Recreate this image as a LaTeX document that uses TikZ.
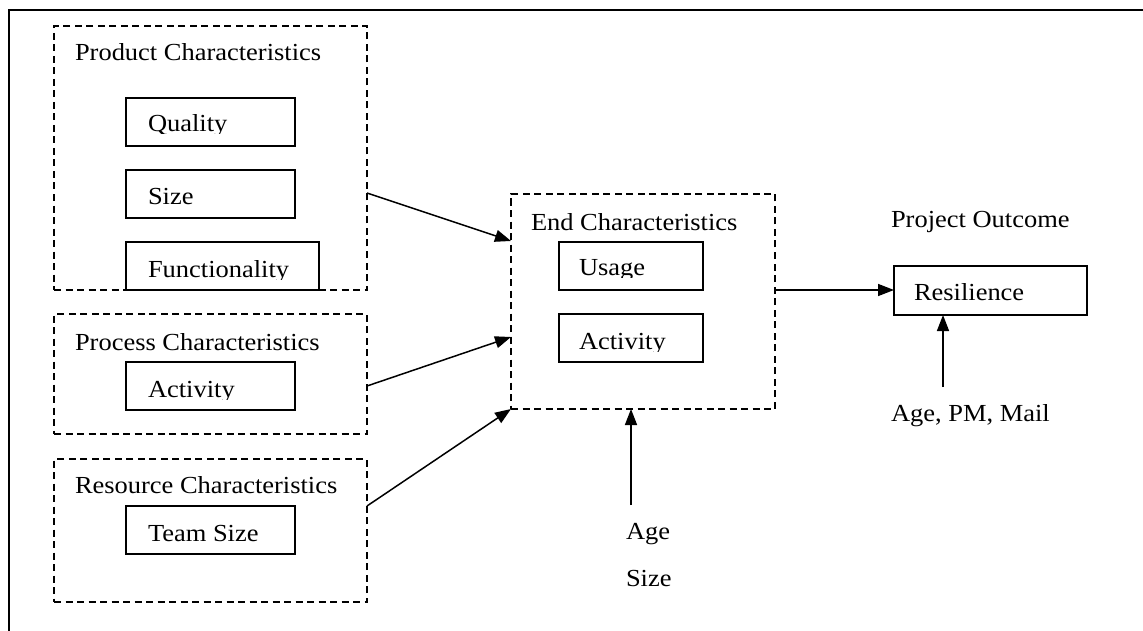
\documentclass[tikz,border=0pt]{standalone}
\usepackage{fontspec}
\setmainfont{Liberation Serif}
\usetikzlibrary{arrows.meta,calc}
% slightly widened serif text
\newcommand{\wide}[1]{\scalebox{1.08}[1]{#1}}
\tikzset{
  frame/.style={line width=2.4pt},
  group/.style={draw, line width=1.5pt, dash pattern=on 7pt off 4.5pt,
    inner sep=0pt, outer sep=0pt, anchor=north west},
  item/.style={draw, line width=1.5pt, inner sep=0pt, outer sep=0pt,
    anchor=north west},
  lbl/.style={anchor=base west, inner sep=0pt, outer sep=0pt,
    font=\fontsize{24.5}{29}\selectfont},
  link/.style={line width=1.5pt, -{Triangle[length=16pt,width=12pt]}}
}
\begin{document}
\begin{tikzpicture}[x=1pt,y=-1pt]
\useasboundingbox (0,0) rectangle (1143,631);

% open outer frame
\draw[frame] (9,631) -- (9,10) -- (1143,10);

% ---- product characteristics ----
\node[group, minimum width=313pt, minimum height=264pt] (pc) at (54,26) {};
\node[lbl] (pct) at (75,61) {\wide{Product Characteristics}};
\node[item, minimum width=169pt, minimum height=48pt] (q) at (126,98) {};
\begin{scope}
  \clip (130,100) rectangle (290,134);
  \node[lbl] (qt) at (148,132) {\wide{Quality}};
\end{scope}
\node[item, minimum width=169pt, minimum height=48pt] (s) at (126,170) {};
\node[lbl] (st) at (148,204.5) {\wide{Size}};
\node[item, minimum width=193pt, minimum height=48pt] (f) at (126,242) {};
\begin{scope}
  \clip (130,244) rectangle (315,279);
  \node[lbl] (ft) at (148,277) {\wide{Functionality}};
\end{scope}

% ---- process characteristics ----
\node[group, minimum width=313pt, minimum height=120pt] (prc) at (54,314) {};
\node[lbl] (prct) at (75,350.5) {\wide{Process Characteristics}};
\node[item, minimum width=169pt, minimum height=48pt] (pa) at (126,362) {};
\begin{scope}
  \clip (130,364) rectangle (290,399);
  \node[lbl] (pat) at (148,397) {\wide{Activity}};
\end{scope}

% ---- resource characteristics ----
\node[group, minimum width=313pt, minimum height=143pt] (rc) at (54,459) {};
\node[lbl] (rct) at (75,493.5) {\wide{Resource Characteristics}};
\node[item, minimum width=169pt, minimum height=48pt] (ts) at (126,506) {};
\node[lbl] (tst) at (148,541) {\wide{Team Size}};

% ---- end characteristics ----
\node[group, minimum width=264pt, minimum height=215pt] (ec) at (511,194) {};
\node[lbl] (ect) at (531,230) {\wide{End Characteristics}};
\node[item, minimum width=144pt, minimum height=48pt] (u) at (559,242) {};
\begin{scope}
  \clip (562,244) rectangle (700,277);
  \node[lbl] (ut) at (579,275) {\wide{Usage}};
\end{scope}
\node[item, minimum width=144pt, minimum height=48pt] (ea) at (559,314) {};
\begin{scope}
  \clip (562,316) rectangle (700,351);
  \node[lbl] (eat) at (579,349) {\wide{Activity}};
\end{scope}

% ---- project outcome ----
\node[lbl] (pot) at (891,228) {\wide{Project Outcome}};
\node[item, minimum width=193pt, minimum height=49pt] (r) at (894,266) {};
\node[lbl] (rt) at (914,300) {\wide{Resilience}};

% ---- external factors ----
\coordinate (agein) at (631,505);
\node[lbl] (age) at (626,539.5) {\wide{Age}};
\node[lbl] (size) at (626,586) {\wide{Size}};
\coordinate (pmin) at (943,387);
\node[lbl] (apm) at (891,421) {\wide{Age, PM, Mail}};

% ---- connectors ----
\draw[link] ($(pc.north east)+(0,167)$) -- ($(ec.north west)+(0,47)$);
\draw[link] ($(prc.north east)+(0,72)$) -- ($(ec.north west)+(0,143)$);
\draw[link] ($(rc.north east)+(0,47)$) -- (ec.south west);
\draw[link] (agein) -- (agein |- ec.south);
\draw[link] ($(ec.north east)+(0,96)$) -- ($(r.north west)+(0,24)$);
\draw[link] (pmin) -- (pmin |- r.south);
\end{tikzpicture}
\end{document}
